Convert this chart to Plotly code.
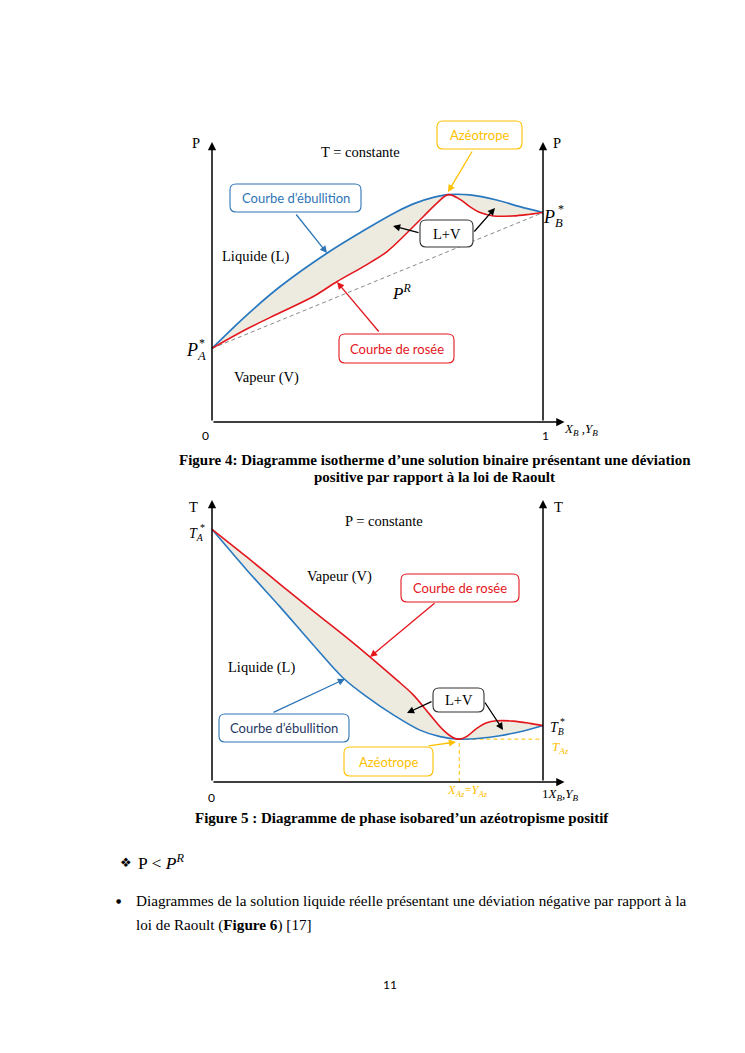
import plotly.graph_objects as go

W, H = 745, 1053

# ---------------- Data ----------------
# Figure 4 (isotherm): x = X_B / Y_B, P in axis units (0 = x axis, 100 = top of P axis)
top_bubble_x = [0, 0.105, 0.205, 0.346, 0.457, 0.558, 0.608, 0.669, 0.714, 0.779, 0.860, 0.930, 1.0]
top_bubble_p = [26.3, 38.2, 48.3, 60.2, 68.3, 75.1, 77.9, 80.2, 81.2, 81.1, 79.3, 76.9, 74.8]
top_dew_x = [0, 0.105, 0.205, 0.306, 0.377, 0.457, 0.528, 0.588, 0.638, 0.679, 0.714, 0.749,
             0.779, 0.810, 0.850, 0.910, 0.961, 1.0]
top_dew_p = [26.3, 33.2, 39.0, 44.8, 50.1, 55.5, 60.8, 67.4, 73.3, 78.1, 81.2, 79.5,
             76.9, 74.8, 73.6, 73.6, 74.2, 74.8]
raoult_x = [0, 1]
raoult_p = [26.3, 74.8]

# Figure 5 (isobar): x = X_B / Y_B, T in axis units
bot_dew_x = [0, 0.105, 0.205, 0.306, 0.407, 0.477, 0.558, 0.608, 0.659, 0.699, 0.729, 0.747,
             0.769, 0.800, 0.830, 0.860, 0.910, 0.961, 1.0]
bot_dew_t = [89.6, 79.8, 70.2, 60.6, 51.2, 44.4, 36.2, 30.9, 23.8, 18.4, 15.7, 15.2,
             16.1, 19.0, 21.0, 21.7, 21.6, 20.8, 20.0]
bot_bubble_x = [0, 0.105, 0.205, 0.306, 0.397, 0.467, 0.548, 0.628, 0.689, 0.747, 0.810, 0.870, 0.941, 1.0]
bot_bubble_t = [89.6, 75.2, 62.2, 48.6, 36.8, 30.3, 23.8, 18.4, 16.1, 15.2, 15.5, 16.4, 18.1, 20.0]
az_x = 0.747
az_t = 15.2

# ---------------- Styles ----------------
BLUE = "#2878C0"
RED = "#E3161D"
YEL = "#FFC000"
FILL = "#EDEBE0"
SERIF = "Liberation Serif"
SANS = "Lato"

fig = go.Figure()

def band(xd, yd, xb, yb, xa, ya):
    fig.add_trace(go.Scatter(x=xd, y=yd, mode="lines", line=dict(width=0, shape="spline"),
                             xaxis=xa, yaxis=ya, hoverinfo="skip"))
    fig.add_trace(go.Scatter(x=xb, y=yb, mode="lines", line=dict(width=0, shape="spline"),
                             fill="tonexty", fillcolor=FILL, xaxis=xa, yaxis=ya, hoverinfo="skip"))

# top diagram
band(top_dew_x, top_dew_p, top_bubble_x, top_bubble_p, "x", "y")
fig.add_trace(go.Scatter(x=raoult_x, y=raoult_p, mode="lines",
                         line=dict(color="#6A6A6A", width=0.8, dash="4px,3px"), xaxis="x", yaxis="y"))
fig.add_trace(go.Scatter(x=top_bubble_x, y=top_bubble_p, mode="lines",
                         line=dict(color=BLUE, width=1.7, shape="spline"), xaxis="x", yaxis="y"))
fig.add_trace(go.Scatter(x=top_dew_x, y=top_dew_p, mode="lines",
                         line=dict(color=RED, width=1.6, shape="spline"), xaxis="x", yaxis="y"))

# bottom diagram
band(bot_dew_x, bot_dew_t, bot_bubble_x, bot_bubble_t, "x2", "y2")
fig.add_trace(go.Scatter(x=[az_x, az_x, 1], y=[0, az_t, az_t], mode="lines",
                         line=dict(color=YEL, width=1, dash="4px,3px"), xaxis="x2", yaxis="y2"))
fig.add_trace(go.Scatter(x=bot_bubble_x, y=bot_bubble_t, mode="lines",
                         line=dict(color=BLUE, width=1.6, shape="spline"), xaxis="x2", yaxis="y2"))
fig.add_trace(go.Scatter(x=bot_dew_x, y=bot_dew_t, mode="lines",
                         line=dict(color=RED, width=1.6, shape="spline"), xaxis="x2", yaxis="y2"))

# ---------------- Axes (page mapping) ----------------
X0, X1 = 212, 543
sx = X1 - X0
TOP_Y0, TOP_S = 422, 2.8
BOT_Y0, BOT_S = 782, 2.82
hid = dict(visible=False, fixedrange=True, domain=[0, 1])
fig.update_layout(
    xaxis=dict(range=[-X0 / sx, (W - X0) / sx], anchor="y", **hid),
    yaxis=dict(range=[(TOP_Y0 - H) / TOP_S, TOP_Y0 / TOP_S], anchor="x", **hid),
    xaxis2=dict(range=[-X0 / sx, (W - X0) / sx], anchor="y2", **hid),
    yaxis2=dict(range=[(BOT_Y0 - H) / BOT_S, BOT_Y0 / BOT_S], anchor="x2", **hid),
    xaxis3=dict(range=[0, W], anchor="y3", **hid),
    yaxis3=dict(range=[H, 0], anchor="x3", **hid),
)

ann = []
shapes = []

def axis_arrow(xr, yr, tail, head):
    ann.append(dict(x=head[0], y=head[1], ax=tail[0], ay=tail[1], xref=xr, yref=yr, axref=xr, ayref=yr,
                    text="", showarrow=True, arrowhead=2, arrowsize=1.1, arrowwidth=1.5, arrowcolor="black"))

for xr, yr in (("x", "y"), ("x2", "y2")):
    axis_arrow(xr, yr, (0, 0), (0, 100))
    axis_arrow(xr, yr, (1, 0), (1, 100))
    axis_arrow(xr, yr, (0, 0), (1.065, 0))

def arrow(tail, head, color, w=1.3):
    ann.append(dict(x=head[0], y=head[1], ax=tail[0], ay=tail[1], xref="x3", yref="y3", axref="x3",
                    ayref="y3", text="", showarrow=True, arrowhead=2, arrowsize=1.1, arrowwidth=w,
                    arrowcolor=color))

def txt(x, y, s, size=14.5, family=SERIF, color="black", xanchor="center"):
    ann.append(dict(x=x, y=y, xref="x3", yref="y3", text=s, showarrow=False, xanchor=xanchor,
                    yanchor="middle", font=dict(size=size, family=family, color=color)))

def box(x0, y0, x1, y1, color, label, tcolor=None, family=SANS, size=13, r=6):
    p = (f"M{x0+r},{y0} L{x1-r},{y0} Q{x1},{y0} {x1},{y0+r} L{x1},{y1-r} Q{x1},{y1} {x1-r},{y1} "
         f"L{x0+r},{y1} Q{x0},{y1} {x0},{y1-r} L{x0},{y0+r} Q{x0},{y0} {x0+r},{y0} Z")
    shapes.append(dict(type="path", path=p, xref="x3", yref="y3", fillcolor="white",
                       line=dict(color=color, width=1.1), layer="above"))
    txt((x0 + x1) / 2, (y0 + y1) / 2, label, size=size, family=family, color=tcolor or color)

# ---- Figure 4 annotations ----
txt(196, 143, "P")
txt(557, 143, "P")
txt(360, 152, "T = constante")
txt(255, 256, "Liquide (L)")
txt(266, 377, "Vapeur (V)")
txt(401, 292, "<i>P</i><sup><i>R</i></sup>", size=17)
txt(196, 351, "<i>P</i><sub><i>A</i></sub>", size=18)
txt(202, 343, "*", size=12)
txt(553, 218, "<i>P</i><sub><i>B</i></sub>", size=18)
txt(561, 209, "*", size=12)
txt(205, 435, "0", size=12, family=SANS)
txt(545, 435, "1", size=12, family=SANS)
txt(581, 429, "<i>X</i><sub><i>B</i></sub> ,<i>Y</i><sub><i>B</i></sub>", size=13)

box(437, 121, 522, 149, YEL, "Azéotrope")
arrow((473, 150), (448, 192), YEL)
box(230, 184, 361, 212, "#2E75B6", "Courbe d’ébullition", tcolor="#2E75B6")
arrow((295, 213), (327, 253), "#2E75B6")
box(420, 220, 473, 247, "#333333", "L+V", tcolor="black", family=SERIF, size=14.5)
arrow((420, 233), (393, 226), "black")
arrow((473, 233), (495, 208), "black")
box(339, 334, 454, 363, RED, "Courbe de rosée")
arrow((380, 333), (337, 282), RED)

txt(435, 460, "<b>Figure 4: Diagramme isotherme d’une solution binaire présentant une déviation</b>", size=15)
txt(434, 477, "<b>positive par rapport à la loi de Raoult</b>", size=15)

# ---- Figure 5 annotations ----
txt(193, 507, "T")
txt(558, 507, "T")
txt(384, 521, "P = constante")
txt(196, 534, "<i>T</i><sub><i>A</i></sub>", size=14)
txt(202, 527, "*", size=10)
txt(339, 576, "Vapeur (V)")
txt(261, 667, "Liquide (L)")
txt(557, 728, "<i>T</i><sub><i>B</i></sub>", size=14)
txt(562, 721, "*", size=10)
txt(560, 747, "<i>T</i><sub><i>Az</i></sub>", size=13, color=YEL)
txt(211, 797, "0", size=12, family=SANS)
txt(560, 794, "1<i>X</i><sub><i>B</i></sub>,<i>Y</i><sub><i>B</i></sub>", size=13)
txt(467, 791, "<i>X</i><sub><i>Az</i></sub>=<i>Y</i><sub><i>Az</i></sub>", size=12.5, color=YEL)

box(401, 574, 519, 602, RED, "Courbe de rosée")
arrow((436, 602), (370, 657), RED)
box(219, 714, 349, 742, "#2E75B6", "Courbe d’ébullition", tcolor="#1F3864")
arrow((272, 713), (345, 679), "#2E75B6")
box(433, 688, 484, 712, "#333333", "L+V", tcolor="black", family=SERIF, size=14.5)
arrow((433, 701), (407, 713), "black")
arrow((484, 701), (503, 730), "black")
box(344, 747, 433, 776, YEL, "Azéotrope")
arrow((427, 746), (456, 742), YEL)

txt(402, 818, "<b>Figure 5 : Diagramme de phase isobared’un azéotropisme positif</b>", size=15)

# ---- body text ----
txt(126, 862, "❖", size=13, family="DejaVu Sans")
txt(136, 862, "P < <i>P</i><sup><i>R</i></sup>", size=17.5, xanchor="left")
txt(118, 900, "●", size=6, family="DejaVu Sans")
txt(134, 900, "Diagrammes de la solution liquide réelle présentant une déviation négative par rapport à la",
    size=15.2, xanchor="left")
txt(134, 925, "loi de Raoult (<b>Figure 6</b>) [17]", size=15.2, xanchor="left")
txt(390, 984, "11", size=12, family=SANS)

fig.update_layout(width=W, height=H, margin=dict(l=0, r=0, t=0, b=0), showlegend=False,
                  paper_bgcolor="white", plot_bgcolor="rgba(0,0,0,0)",
                  annotations=ann, shapes=shapes)

fig.write_html("out.html", config={"displayModeBar": False},
               post_script="document.body.style.margin='0px';")
